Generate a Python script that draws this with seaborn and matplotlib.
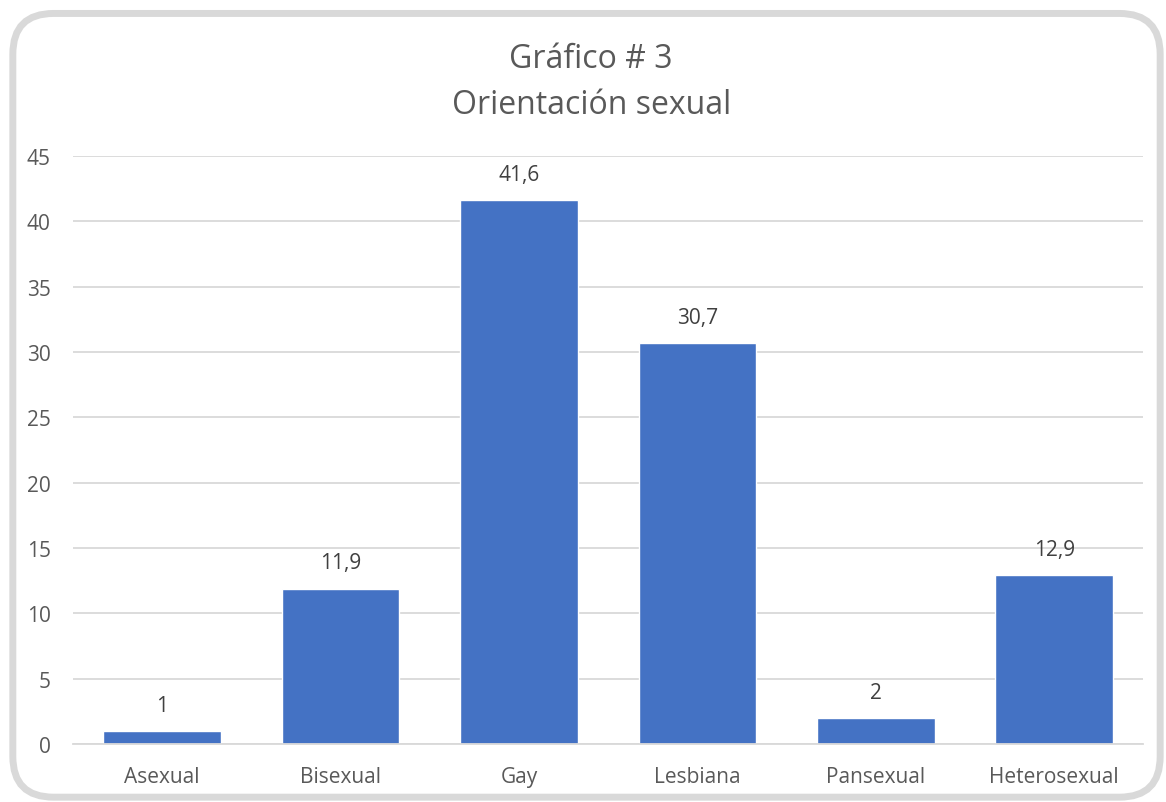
import seaborn as sns
import matplotlib.pyplot as plt
from matplotlib.patches import FancyBboxPatch

categories = ['Asexual', 'Bisexual', 'Gay', 'Lesbiana', 'Pansexual', 'Heterosexual']
values = [1, 11.9, 41.6, 30.7, 2, 12.9]
labels = ['1', '11,9', '41,6', '30,7', '2', '12,9']
yticks = [0, 5, 10, 15, 20, 25, 30, 35, 40, 45]

sns.set_style('white')
plt.rcParams['font.family'] = ['Open Sans', 'DejaVu Sans']
text_color = '#595959'

fig = plt.figure(figsize=(11.66, 8.03), dpi=100)

# rounded chart border
border = FancyBboxPatch((0.011, 0.006), 0.984, 0.976,
                        boxstyle='round,pad=0,rounding_size=0.035',
                        transform=fig.transFigure, facecolor='none',
                        edgecolor='#D9D9D9', linewidth=5, mutation_aspect=1166 / 803,
                        zorder=-1)
fig.patches.append(border)

ax = fig.add_axes([0.0626, 0.0722, 0.918, 0.7323])
ax.set_facecolor('none')
sns.barplot(x=categories, y=values, color='#4472C4', saturation=1, width=0.66, ax=ax)

ax.set_ylim(0, 45)
ax.set_yticks(yticks)
ax.yaxis.grid(True, color='#D9D9D9', linewidth=1.3)
ax.set_axisbelow(True)
for s in ['top', 'right', 'left']:
    ax.spines[s].set_visible(False)
ax.spines['bottom'].set_color('#D9D9D9')
ax.spines['bottom'].set_linewidth(1.3)
ax.tick_params(axis='both', length=0, labelsize=15, colors=text_color)
ax.tick_params(axis='x', pad=16)
ax.tick_params(axis='y', pad=16)

for i, (v, lab) in enumerate(zip(values, labels)):
    ax.annotate(lab, (i, v), xytext=(0, 11), textcoords='offset points',
                ha='center', va='bottom', fontsize=15, color='#404040')

fig.text(0.507, 0.926, 'Gráfico # 3', ha='center', va='center', fontsize=23, color=text_color)
fig.text(0.507, 0.869, 'Orientación sexual', ha='center', va='center', fontsize=23, color=text_color)

fig.savefig('out.png', dpi=100)
